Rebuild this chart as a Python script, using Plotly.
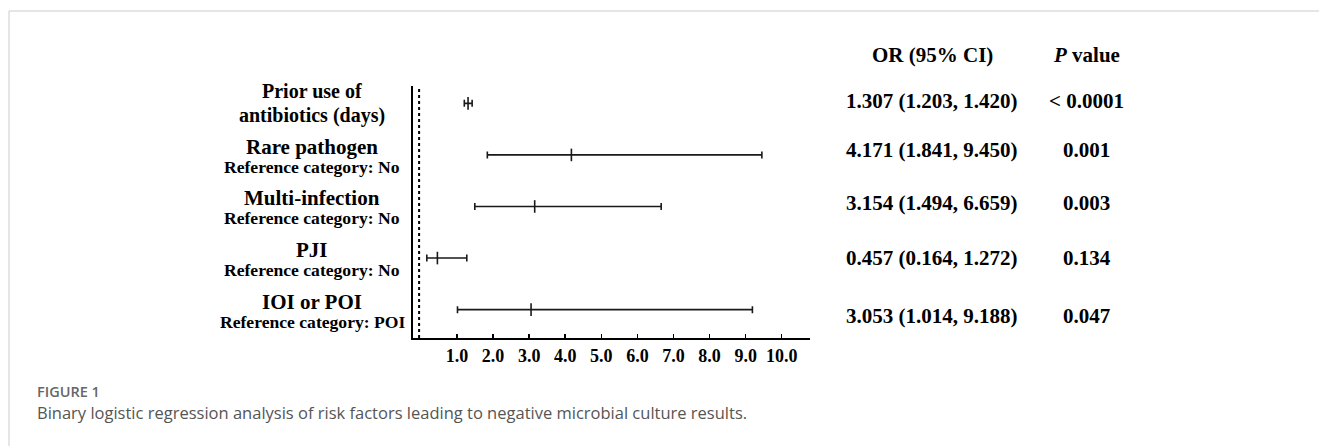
import plotly.graph_objects as go

# ---- data ----
main_labels = ["Prior use of", "Rare pathogen", "Multi-infection", "PJI", "IOI or POI"]
sub_labels = ["antibiotics (days)", "Reference category: No", "Reference category: No",
              "Reference category: No", "Reference category: POI"]
odds_ratio = [1.307, 4.171, 3.154, 0.457, 3.053]
ci_low = [1.203, 1.841, 1.494, 0.164, 1.014]
ci_high = [1.420, 9.450, 6.659, 1.272, 9.188]
p_values = ["< 0.0001", "0.001", "0.003", "0.134", "0.047"]
x_ticks = [1.0, 2.0, 3.0, 4.0, 5.0, 6.0, 7.0, 8.0, 9.0, 10.0]
x_tick_labels = ["1.0", "2.0", "3.0", "4.0", "5.0", "6.0", "7.0", "8.0", "9.0", "10.0"]

rows = list(range(len(main_labels)))
or_text = [f"{o:.3f} ({l:.3f}, {h:.3f})" for o, l, h in zip(odds_ratio, ci_low, ci_high)]

# ---- layout geometry (pixels) ----
W, H = 1319, 446
ML, MR, MT, MB = 413, 509, 86, 108
PW, PH = W - ML - MR, H - MT - MB


def px(xp):
    return (xp - ML) / PW


def py(yp):
    return (H - MB - yp) / PH


SERIF = "Liberation Serif, Times New Roman, serif"
SANS = "Open Sans, Noto Sans, sans-serif"

fig = go.Figure()
fig.add_trace(go.Scatter(
    x=odds_ratio, y=rows, mode="markers",
    marker=dict(symbol="line-ns", size=9, line=dict(width=1.6, color="#1a1a1a"), color="#1a1a1a"),
    error_x=dict(type="data", symmetric=False,
                 array=[h - o for h, o in zip(ci_high, odds_ratio)],
                 arrayminus=[o - l for o, l in zip(odds_ratio, ci_low)],
                 color="#1a1a1a", thickness=1.6, width=3.5),
    showlegend=False, hoverinfo="skip",
))

# dotted reference line
fig.add_shape(type="line", xref="x", yref="paper", x0=-0.05, x1=-0.05, y0=0, y1=1,
              line=dict(color="black", width=2, dash="dot"))

annotations = []
# left labels (two lines, centered)
main_shift = [12, 8, 8, 8, 8]
sub_shift = [-12, -12, -12, -12, -12]
main_size = [20, 21, 21, 21, 21]
sub_size = [20, 17.6, 17.6, 17.6, 17.6]
for r, (m, s) in enumerate(zip(main_labels, sub_labels)):
    annotations.append(dict(text=m, xref="paper", yref="y", x=px(312), y=r, yshift=main_shift[r],
                            xanchor="center", yanchor="middle", showarrow=False, borderpad=0,
                            font=dict(family=SERIF, size=main_size[r], color="black", weight="bold")))
    annotations.append(dict(text=s, xref="paper", yref="y", x=px(312), y=r, yshift=sub_shift[r],
                            xanchor="center", yanchor="middle", showarrow=False, borderpad=0,
                            font=dict(family=SERIF, size=sub_size[r], color="black", weight="bold")))

# right columns
val_shift = [2, 5, 3, 0, -6]
for r in rows:
    annotations.append(dict(text=or_text[r], xref="paper", yref="y", x=px(932), y=r, yshift=val_shift[r],
                            xanchor="center", yanchor="middle", showarrow=False,
                            font=dict(family=SERIF, size=21, color="black", weight="bold")))
    annotations.append(dict(text=p_values[r], xref="paper", yref="y", x=px(1086.5), y=r, yshift=val_shift[r],
                            xanchor="center", yanchor="middle", showarrow=False,
                            font=dict(family=SERIF, size=21, color="black", weight="bold")))
annotations.append(dict(text="OR (95% CI)", xref="paper", yref="paper", x=px(932), y=py(55),
                        xanchor="center", yanchor="middle", showarrow=False,
                        font=dict(family=SERIF, size=21, color="black", weight="bold")))
annotations.append(dict(text="<i>P</i> value", xref="paper", yref="paper", x=px(1086.5), y=py(55),
                        xanchor="center", yanchor="middle", showarrow=False,
                        font=dict(family=SERIF, size=21, color="black", weight="bold")))

# caption
annotations.append(dict(text="FIGURE 1", xref="paper", yref="paper", x=px(35), y=py(391.5),
                        xanchor="left", yanchor="middle", showarrow=False,
                        font=dict(family=SANS, size=14.5, color="#666666", weight=600)))
annotations.append(dict(text="Binary logistic regression analysis of risk factors leading to negative microbial culture results.",
                        xref="paper", yref="paper", x=px(35), y=py(412),
                        xanchor="left", yanchor="middle", showarrow=False,
                        font=dict(family=SANS, size=16.5, color="#555555")))

# card border (top and left)
shapes_border = [
    dict(type="line", xref="paper", yref="paper", x0=px(9), x1=px(W), y0=py(11), y1=py(11),
         line=dict(color="#cccccc", width=1)),
    dict(type="line", xref="paper", yref="paper", x0=px(9), x1=px(9), y0=py(11), y1=py(H),
         line=dict(color="#cccccc", width=1)),
]
for s in shapes_border:
    fig.add_shape(**s)

fig.update_layout(
    width=W, height=H,
    margin=dict(l=ML, r=MR, t=MT, b=MB),
    paper_bgcolor="white", plot_bgcolor="white",
    annotations=annotations,
    xaxis=dict(range=[-0.219, 10.784], tickvals=x_ticks, ticktext=x_tick_labels,
               ticks="inside", ticklen=4, tickwidth=1.5, tickcolor="black",
               showline=True, linecolor="black", linewidth=2, showgrid=False, zeroline=False,
               tickfont=dict(family=SERIF, size=18, color="black", weight="bold")),
    yaxis=dict(range=[4.55, -0.336], showticklabels=False, ticks="",
               showline=True, linecolor="black", linewidth=2, showgrid=False, zeroline=False),
)

fig.write_html("out.html",
               config={"displayModeBar": False, "staticPlot": True},
               post_script="document.body.style.margin='0';document.body.style.overflow='hidden';")
